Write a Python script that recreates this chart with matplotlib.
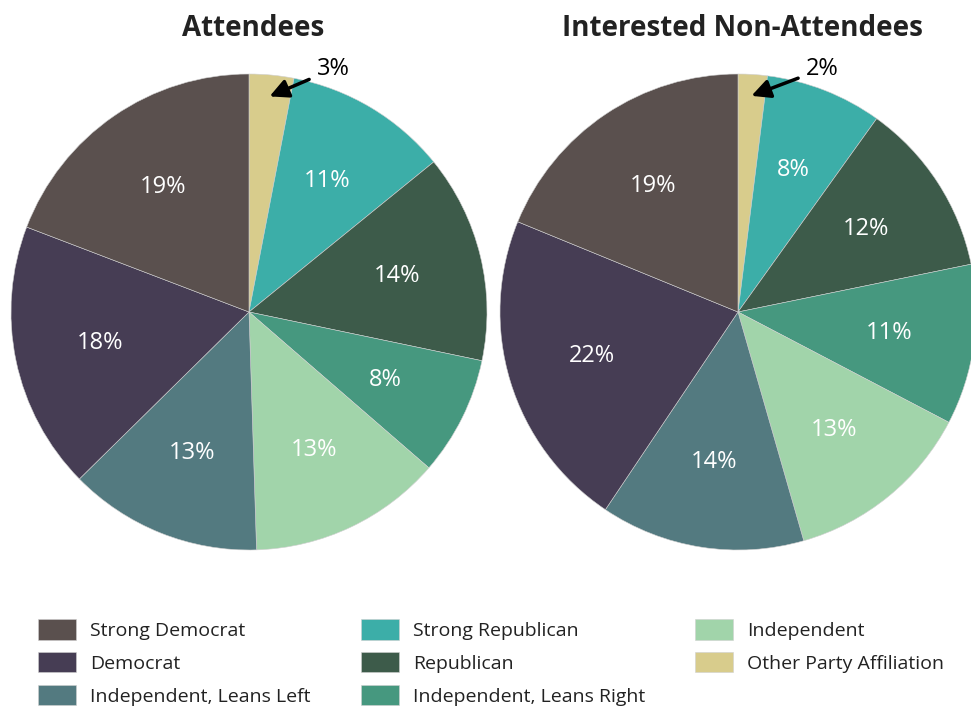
import numpy as np
import matplotlib
matplotlib.use("Agg")
import matplotlib.pyplot as plt

plt.rcParams['font.family'] = ['Open Sans', 'DejaVu Sans']

# party categories, clockwise from 12 o'clock
categories = ['Other Party Affiliation', 'Strong Republican', 'Republican',
              'Independent, Leans Right', 'Independent',
              'Independent, Leans Left', 'Democrat', 'Strong Democrat']
attendees = [3, 11, 14, 8, 13, 13, 18, 19]
non_attendees = [2, 8, 12, 11, 13, 14, 22, 19]
titles = ['Attendees', 'Interested Non-Attendees']

colors = {'Strong Democrat': '#5a504e',
          'Democrat': '#463d54',
          'Independent, Leans Left': '#537a80',
          'Strong Republican': '#3caea8',
          'Republican': '#3d5b4a',
          'Independent, Leans Right': '#46987f',
          'Independent': '#a1d4aa',
          'Other Party Affiliation': '#d8cc8c'}
legend_order = ['Strong Democrat', 'Democrat', 'Independent, Leans Left',
                'Strong Republican', 'Republican', 'Independent, Leans Right',
                'Independent', 'Other Party Affiliation']

W, H = 971, 707
fig = plt.figure(figsize=(W / 100, H / 100), dpi=100)
ax = fig.add_axes([0, 0, 1, 1])

R = 238
centers = [(249, H - 312), (738, H - 312)]
handles = {}
for vals, (cx, cy), title in zip([attendees, non_attendees], centers, titles):
    wedges, _ = ax.pie(vals, colors=[colors[c] for c in categories],
                       startangle=90, counterclock=False, radius=R,
                       center=(cx, cy),
                       wedgeprops=dict(edgecolor='#d0d0d0', linewidth=0.4))
    for w, v, c in zip(wedges, vals, categories):
        handles[c] = w
        mid = np.deg2rad((w.theta1 + w.theta2) / 2)
        if v >= 5:
            ax.text(cx + 0.64 * R * np.cos(mid), cy + 0.64 * R * np.sin(mid),
                    '%d%%' % v, color='white', fontsize=17,
                    ha='center', va='center')
        else:
            tip = (cx + 0.91 * R * np.cos(mid), cy + 0.91 * R * np.sin(mid))
            a2 = np.deg2rad(71)
            ax.annotate('%d%%' % v, xy=tip,
                        xytext=(cx + 1.09 * R * np.cos(a2), cy + 1.08 * R * np.sin(a2)),
                        fontsize=17, color='black', ha='center', va='center',
                        arrowprops=dict(arrowstyle='-|>', color='black', lw=2.5,
                                        mutation_scale=28, shrinkA=4, shrinkB=0))
    ax.text(cx + 4, H - 28, title, fontsize=20, fontweight='bold',
            color='#222222', ha='center', va='center')

ax.set_xlim(0, W)
ax.set_ylim(0, H)
ax.set_aspect('equal')
ax.axis('off')

leg = fig.legend([handles[c] for c in legend_order], legend_order,
                 loc='upper left', bbox_to_anchor=(38 / W, 1 - 619 / H),
                 ncol=3, frameon=False, fontsize=14,
                 handlelength=1.95, handleheight=1.25, handletextpad=0.75,
                 columnspacing=2.55, labelspacing=0.62, borderaxespad=0,
                 borderpad=0)
for t in leg.get_texts():
    t.set_color('#222222')

fig.savefig('out.png', dpi=100)
